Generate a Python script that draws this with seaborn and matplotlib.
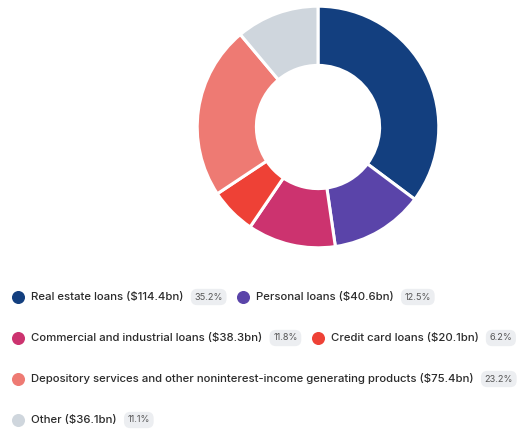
import matplotlib
matplotlib.use("Agg")
import matplotlib.pyplot as plt
import seaborn as sns

sns.set_theme(style="white")
plt.rcParams["font.family"] = ["Inter", "DejaVu Sans"]

labels = ["Real estate loans", "Personal loans", "Commercial and industrial loans",
          "Credit card loans",
          "Depository services and other noninterest-income generating products", "Other"]
values = [114.4, 40.6, 38.3, 20.1, 75.4, 36.1]
shares = ["35.2%", "12.5%", "11.8%", "6.2%", "23.2%", "11.1%"]
colors = ["#133f7f", "#5a44a9", "#cc336f", "#ee4136", "#ee7a73", "#cfd6dd"]
legend_rows = [[0, 1], [2, 3], [4], [5]]

W, H = 525, 429
fig = plt.figure(figsize=(W / 100, H / 100), dpi=100)
fig.patch.set_facecolor("white")

# donut
cx, cy, r = 318, 127, 122
ax = fig.add_axes([(cx - r) / W, 1 - (cy + r) / H, 2 * r / W, 2 * r / H])
ax.pie(values, colors=colors, startangle=90, counterclock=False, radius=1,
       wedgeprops=dict(width=0.49, edgecolor="white", linewidth=2.2))
ax.set_xlim(-1.01, 1.01)
ax.set_ylim(-1.01, 1.01)
ax.set_aspect("equal")
ax.axis("off")

# legend laid out in pixel coords, measuring text widths
lax = fig.add_axes([0, 0, 1, 1])
lax.set_xlim(0, W)
lax.set_ylim(H, 0)
lax.axis("off")
renderer = fig.canvas.get_renderer()

row_y = [297, 338, 379, 420]
for row, y in zip(legend_rows, row_y):
    x = 12
    for i in row:
        lax.scatter([x + 6], [y], s=70, color=colors[i], zorder=3)
        t = lax.text(x + 19, y, f"{labels[i]} (${values[i]}bn)", fontsize=8.2,
                     color="#2b2b2b", va="center", ha="left", weight="medium")
        bb = t.get_window_extent(renderer)
        x = x + 19 + bb.width + 11
        b = lax.text(x, y, shares[i], fontsize=6.6, color="#555555", va="center", ha="left",
                     bbox=dict(boxstyle="round,pad=0.4,rounding_size=0.7",
                               fc="#eceef1", ec="none"))
        bb = b.get_window_extent(renderer)
        x = x + bb.width + 14

fig.savefig("out.png", dpi=100, facecolor="white")
